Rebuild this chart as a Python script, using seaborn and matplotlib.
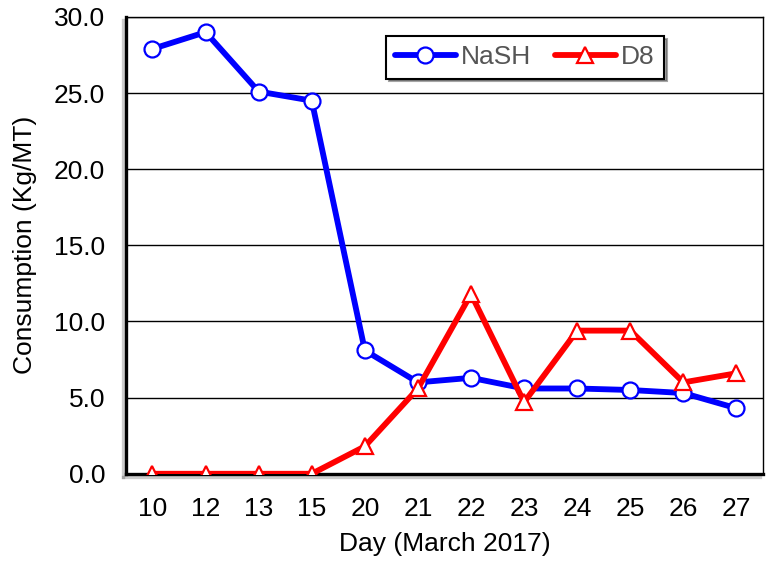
import numpy as np
import pandas as pd
import seaborn as sns
import matplotlib.pyplot as plt
import matplotlib.patheffects as pe
from matplotlib.lines import Line2D

# Values
days = ["10", "12", "13", "15", "20", "21", "22", "23", "24", "25", "26", "27"]
nash = [27.9, 29.0, 25.1, 24.5, 8.1, 6.0, 6.3, 5.6, 5.6, 5.5, 5.3, 4.3]
d8 = [0.0, 0.0, 0.0, 0.0, 1.8, 5.6, 11.8, 4.7, 9.4, 9.4, 6.0, 6.6]

series_names = ["NaSH", "D8"]
colors = {"NaSH": "#0000ff", "D8": "#ff0000"}
markers = {"NaSH": "o", "D8": "^"}

pos = np.arange(len(days))
df = pd.DataFrame({
    "pos": np.concatenate([pos, pos]),
    "value": nash + d8,
    "series": ["NaSH"] * len(days) + ["D8"] * len(days),
})

sns.set_style("white")
plt.rcParams["font.family"] = ["Liberation Sans", "DejaVu Sans"]
plt.rcParams["text.color"] = "black"
plt.rcParams["axes.labelcolor"] = "black"
plt.rcParams["xtick.color"] = "black"
plt.rcParams["ytick.color"] = "black"

fig = plt.figure(figsize=(7.68, 5.64), dpi=100)
ax = fig.add_axes([0.164, 0.16, 0.8295, 0.81])

sns.lineplot(
    data=df, x="pos", y="value", hue="series", style="series",
    palette=colors, markers=markers, dashes=False,
    linewidth=4.2, markersize=11.5, markerfacecolor="white",
    markeredgewidth=1.6, ax=ax, zorder=3, legend=False,
)
for line, name in zip(ax.lines, series_names):
    line.set_markeredgecolor(colors[name])

ax.set_xlim(-0.5, len(days) - 0.5)
ax.set_ylim(0, 30)
yt = np.arange(0, 31, 5)
ax.set_yticks(yt)
ax.set_yticklabels([f"{v:.1f}" for v in yt], fontsize=19)
ax.set_xticks(pos)
ax.set_xticklabels(days, fontsize=19)
ax.set_xticks(np.arange(-0.5, len(days), 1), minor=True)
ax.tick_params(axis="x", which="major", length=0, pad=17)
ax.tick_params(axis="x", which="minor", length=7, width=1.5, direction="out", color="black")
ax.tick_params(axis="y", length=0, pad=15)

ax.yaxis.grid(True, color="black", linewidth=1.0)
ax.set_axisbelow(True)

for s in ["left", "bottom"]:
    ax.spines[s].set_linewidth(2.4)
    ax.spines[s].set_color("black")
    ax.spines[s].set_path_effects([pe.SimpleLineShadow(offset=(-2, -2), alpha=0.2), pe.Normal()])
for s in ["top", "right"]:
    ax.spines[s].set_linewidth(1.0)
    ax.spines[s].set_color("black")

ax.set_xlabel("Day (March 2017)", fontsize=19, labelpad=8)
ax.set_ylabel("Consumption (Kg/MT)", fontsize=19, labelpad=12)

handles = [
    Line2D([], [], color=colors[n], linewidth=4.2, marker=markers[n], markersize=11.5,
           markerfacecolor="white", markeredgecolor=colors[n], markeredgewidth=1.6)
    for n in series_names
]
leg = ax.legend(
    handles, series_names, loc="upper left", bbox_to_anchor=(0.408, 0.958),
    ncol=2, fontsize=19, frameon=True, shadow=True, fancybox=False,
    handlelength=2.3, columnspacing=0.9, handletextpad=0.2, borderpad=0.35,
    borderaxespad=0,
)
leg.get_frame().set_edgecolor("black")
leg.get_frame().set_linewidth(1.5)
for t in leg.get_texts():
    t.set_color("#555555")

fig.savefig("out.png", dpi=100)
